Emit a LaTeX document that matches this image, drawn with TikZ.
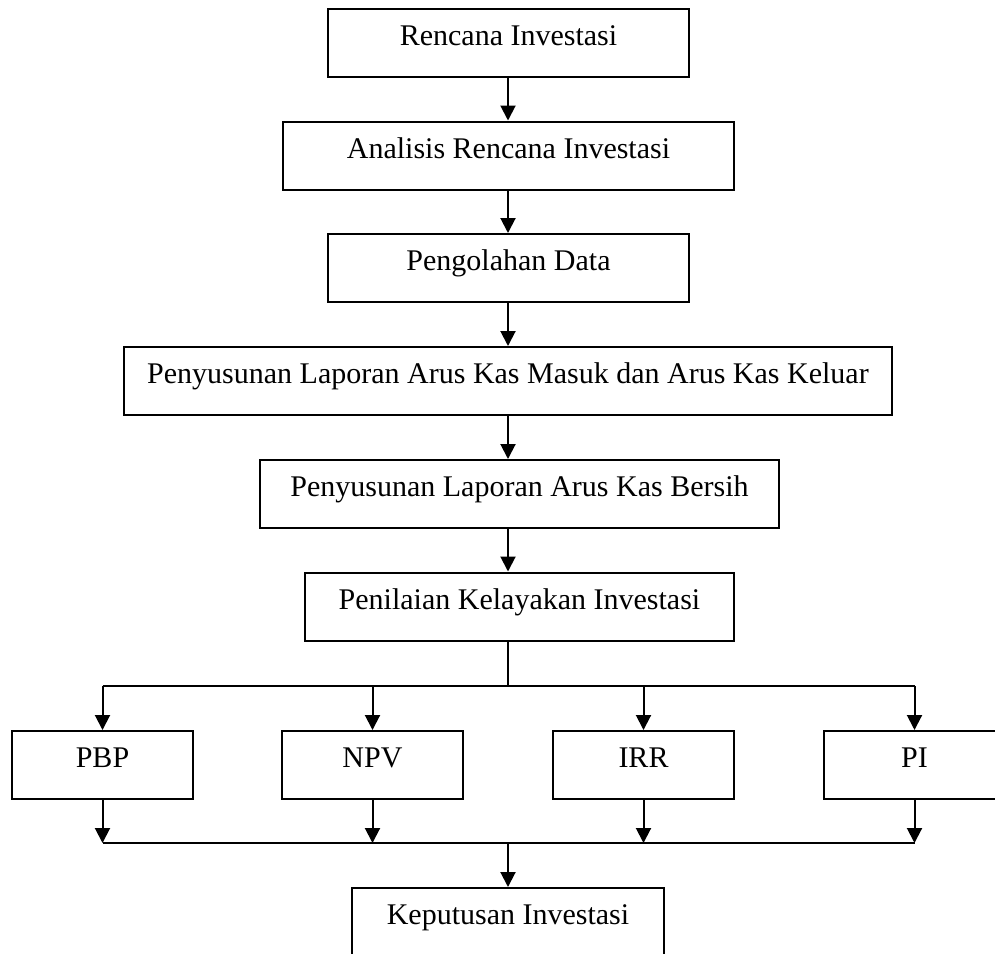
\documentclass[tikz,border=0pt]{standalone}
\usepackage{fontspec}
\setmainfont{Liberation Serif}
\usetikzlibrary{arrows.meta}
\begin{document}
\begin{tikzpicture}[x=1pt,y=-1pt,
  box/.style={draw,line width=2pt,rectangle,inner sep=0pt,minimum height=68pt,
    text height=20pt,text depth=15pt,font=\fontsize{30}{36}\selectfont},
  arr/.style={line width=2pt,-{Triangle[width=15pt,length=15pt]}},
  ln/.style={line width=2pt}]
\useasboundingbox (0,0) rectangle (995,953);
\clip (0,0) rectangle (995,953);
\node[box,minimum width=361pt] (b1) at (508.5,43) {Rencana Investasi};
\node[box,minimum width=451pt] (b2) at (508.5,155.5) {Analisis Rencana Investasi};
\node[box,minimum width=361pt] (b3) at (508.5,268) {Pengolahan Data};
\node[box,minimum width=768pt] (b4) at (508,381) {Penyusunan Laporan Arus Kas Masuk dan Arus Kas Keluar};
\node[box,minimum width=519pt] (b5) at (519.5,494) {Penyusunan Laporan Arus Kas Bersih};
\node[box,minimum width=429pt] (b6) at (519.5,606.5) {Penilaian Kelayakan Investasi};
\node[box,minimum width=181pt] (pbp) at (102.5,765) {PBP};
\node[box,minimum width=181pt] (npv) at (372.5,765) {NPV};
\node[box,minimum width=181pt] (irr) at (643.5,765) {IRR};
\node[box,minimum width=181pt] (pi) at (914.5,765) {PI};
\node[box,minimum width=312pt,minimum height=136pt,text height=20pt,text depth=83pt] (kep) at (508,956) {Keputusan Investasi};
\coordinate (ax) at (508,0);
\coordinate (j1) at (508,686);
\coordinate (j2) at (508,843);
\draw[arr] (b1.south -| ax) -- (b2.north -| ax);
\draw[arr] (b2.south -| ax) -- (b3.north -| ax);
\draw[arr] (b3.south -| ax) -- (b4.north -| ax);
\draw[arr] (b4.south -| ax) -- (b5.north -| ax);
\draw[arr] (b5.south -| ax) -- (b6.north -| ax);
\draw[ln] (b6.south -| ax) -- (j1);
\draw[ln] (j1 -| pbp) -- (j1 -| pi);
\foreach \n in {pbp,npv,irr,pi}{
  \draw[arr] (j1 -| \n) -- (\n.north);
  \draw[arr] (\n.south) -- (j2 -| \n);
}
\draw[ln] (j2 -| pbp) -- (j2 -| pi);
\draw[arr] (j2) -- (kep.north);
\end{tikzpicture}
\end{document}
